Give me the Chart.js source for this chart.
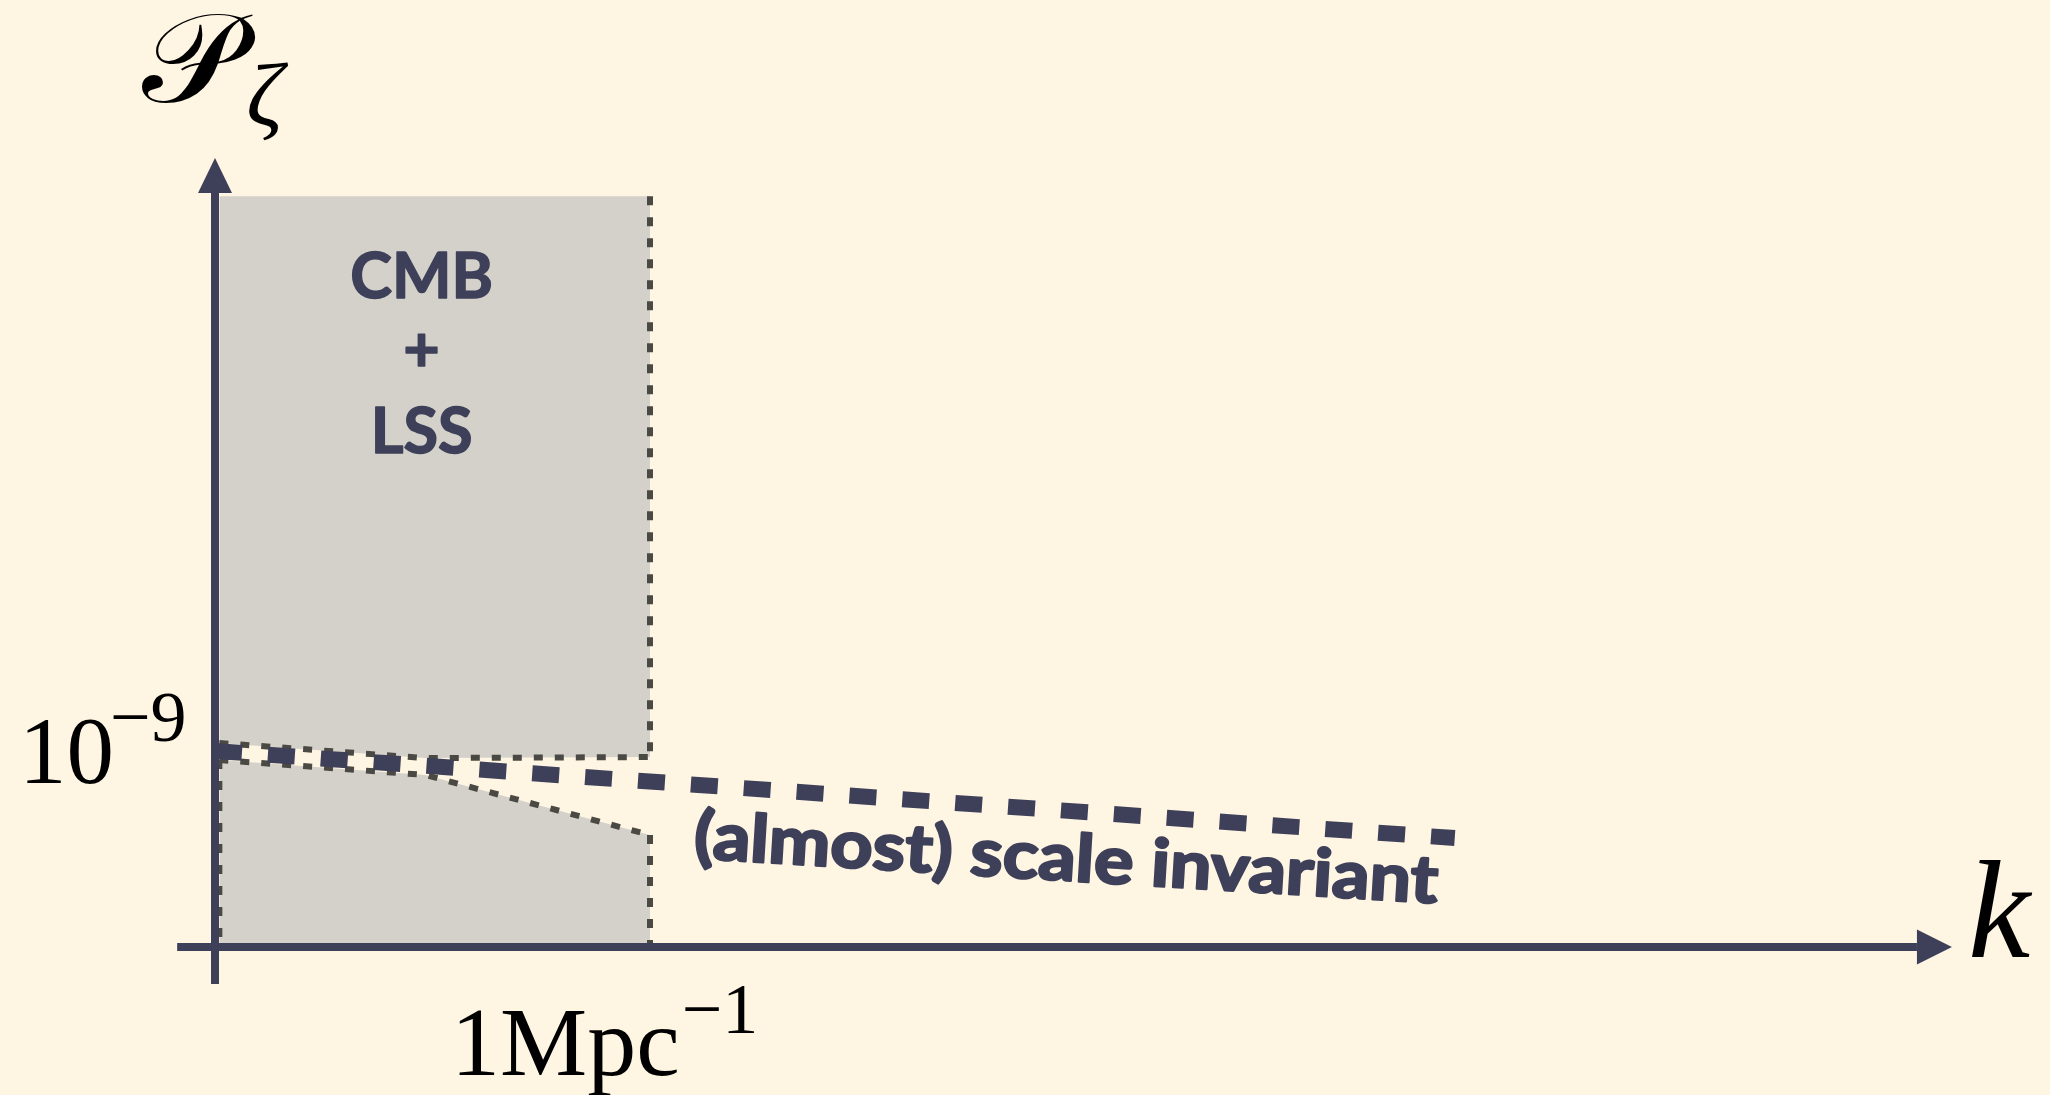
<!DOCTYPE html>
<html>
  <head>
    <title>Curvature power spectrum</title>
    <meta charset="UTF-8" />
    <script src="https://cdn.jsdelivr.net/npm/chart.js"></script>
    <style>
      html, body { margin: 0; padding: 0; background: #fef5e3; }
      #wrap { width: 2050px; height: 1095px; position: relative; }
    </style>
  </head>

  <body>
    <div id="wrap"><canvas id="myChart"></canvas></div>

    <script>
      // schematic units: k in Mpc^-1, P_zeta in units of 1e-9
      const bandK = [0.01, 0.483, 1];
      const cmbUpperEdge = [1.041, 0.964, 0.969]; // bottom of the excluded region above
      const cmbLowerEdge = [0.954, 0.878, 0.571]; // top of the excluded region below
      const cmbTop = 3.83;
      const spectrumK = [0, 2.85];
      const spectrumP = [1.0, 0.556];
      const yTickValue = 1;   // 10^-9
      const xTickValue = 1;   // 1 Mpc^-1
      const yTickLabel = ['10', '\u22129'];
      const xTickLabel = ['1Mpc', '\u22121'];
      const regionLabel = ['CMB', '+', 'LSS'];
      const curveLabel = '(almost) scale invariant';

      const bg = '#fef5e3';
      const ink = '#3e4059';
      const shade = '#d3d1ca';
      const dots = '#4b4944';

      const pts = (xs, ys) => xs.map((v, i) => ({ x: v, y: ys[i] }));
      const dotted = { borderColor: dots, borderWidth: 6, borderDash: [9, 12], borderCapStyle: 'butt', pointRadius: 0, tension: 0 };

      // draw a glyph stretched so its ink fills the box [x0,x1]x[y0,y1]
      function glyphInBox(c, txt, font, x0, y0, x1, y1) {
        c.save();
        c.font = font;
        c.textAlign = 'left';
        c.textBaseline = 'alphabetic';
        const m = c.measureText(txt);
        const gw = m.actualBoundingBoxLeft + m.actualBoundingBoxRight;
        const gh = m.actualBoundingBoxAscent + m.actualBoundingBoxDescent;
        const sx = (x1 - x0) / gw, sy = (y1 - y0) / gh;
        c.translate(x0 + m.actualBoundingBoxLeft * sx, y0 + m.actualBoundingBoxAscent * sy);
        c.scale(sx, sy);
        c.fillText(txt, 0, 0);
        c.restore();
      }

      // filled text with a thin outline, to get closer to the heavy sans of the original
      function heavyText(c, txt, px, py, extra) {
        c.fillText(txt, px, py);
        c.lineWidth = extra;
        c.lineJoin = 'round';
        c.strokeText(txt, px, py);
      }

      const overlay = {
        id: 'overlay',
        beforeDraw(chart) {
          const c = chart.ctx;
          c.save();
          c.fillStyle = bg;
          c.fillRect(0, 0, chart.width, chart.height);
          c.restore();
        },
        afterDatasetsDraw(chart) {
          const c = chart.ctx;
          const { x, y } = chart.scales;
          const ax = x.getPixelForValue(0);
          const ay = y.getPixelForValue(0);
          const yTip = y.getPixelForValue(4.026);
          const yEnd = y.getPixelForValue(-0.189);
          const xStart = x.getPixelForValue(-0.087);
          const xTip = x.getPixelForValue(3.993);
          const head = 35;

          c.save();
          c.setLineDash([]);
          c.strokeStyle = ink;
          c.fillStyle = ink;
          c.lineWidth = 8;
          c.beginPath();
          c.moveTo(ax, yEnd);
          c.lineTo(ax, yTip + head);
          c.moveTo(xStart, ay);
          c.lineTo(xTip - head, ay);
          c.stroke();
          c.beginPath();
          c.moveTo(ax, yTip);
          c.lineTo(ax - 17, yTip + head);
          c.lineTo(ax + 17, yTip + head);
          c.closePath();
          c.fill();
          c.beginPath();
          c.moveTo(xTip, ay);
          c.lineTo(xTip - head, ay - 17.5);
          c.lineTo(xTip - head, ay + 17.5);
          c.closePath();
          c.fill();

          // tick labels
          c.fillStyle = '#000';
          c.textBaseline = 'alphabetic';
          c.textAlign = 'left';
          const ty = y.getPixelForValue(yTickValue);
          c.font = '95px "Liberation Serif"';
          c.fillText(yTickLabel[0], 19, ty + 32);
          c.font = '72px "Liberation Serif"';
          c.fillText(yTickLabel[1], 110, ty - 10);

          const tx = x.getPixelForValue(xTickValue);
          c.font = '98px "Liberation Serif"';
          c.fillText(xTickLabel[0], tx - 199, 1075);
          const w = c.measureText(xTickLabel[0]).width;
          c.font = '72px "Liberation Serif"';
          c.fillText(xTickLabel[1], tx - 199 + w + 2, 1033);

          // axis titles
          c.font = 'italic 140px "Liberation Serif"';
          c.fillText('k', xTip + 16, ay + 10);
          glyphInBox(c, '\u{1D4AB}', '120px "DejaVu Serif"', 142, 14, 255, 103);
          glyphInBox(c, '\u03B6', 'italic 100px "Liberation Serif"', 249, 62, 289, 141);

          // region label
          c.fillStyle = ink;
          c.strokeStyle = ink;
          c.textAlign = 'center';
          const cx = x.getPixelForValue(0.475);
          c.font = 'bold 63px Lato';
          heavyText(c, regionLabel[0], cx, 298, 1.5);
          c.textBaseline = 'middle';
          heavyText(c, regionLabel[1], cx, 351, 1.5);
          c.textBaseline = 'alphabetic';
          heavyText(c, regionLabel[2], cx, 453, 1.5);

          // curve label, tilted along the spectrum
          const lx = x.getPixelForValue(1.099);
          const ly = y.getPixelForValue(0.454);
          c.translate(lx, ly);
          c.rotate(Math.atan(0.0606));
          c.textAlign = 'left';
          c.font = 'bold 66px Lato';
          const lw = c.measureText(curveLabel).width;
          c.scale(745 / lw, 1);
          heavyText(c, curveLabel, 0, 0, 2.5);
          c.restore();
        }
      };

      // pixel mapping: axis origin at (215, 947), 435 px per k unit, 196 px per P unit
      const W = 2050, H = 1095;
      new Chart(document.getElementById('myChart').getContext('2d'), {
        type: 'line',
        data: {
          datasets: [
            { data: pts(spectrumK, spectrumP), borderColor: ink, borderWidth: 16, borderDash: [27, 26], borderCapStyle: 'butt', pointRadius: 0, fill: false },
            { data: pts([1, 1], [cmbTop, cmbUpperEdge[2]]), ...dotted, fill: false },
            { data: pts([1, 1], [cmbLowerEdge[2], 0]), ...dotted, fill: false },
            { data: pts([0.01, 0.01], [cmbLowerEdge[0], 0]), ...dotted, fill: false },
            { data: pts(bandK, cmbUpperEdge), ...dotted, fill: false },
            { data: pts(bandK, cmbLowerEdge), ...dotted, fill: 'origin', backgroundColor: shade },
            { data: pts(bandK, bandK.map(() => cmbTop)), borderWidth: 0, pointRadius: 0, fill: 4, backgroundColor: shade }
          ]
        },
        options: {
          responsive: true,
          maintainAspectRatio: false,
          animation: false,
          events: [],
          layout: { padding: 0 },
          scales: {
            x: { type: 'linear', display: false, min: -215 / 435, max: (W - 215) / 435 },
            y: { type: 'linear', display: false, min: -(H - 947) / 196, max: 947 / 196 }
          },
          plugins: { legend: { display: false }, tooltip: { enabled: false } }
        },
        plugins: [overlay]
      });
    </script>
  </body>
</html>
